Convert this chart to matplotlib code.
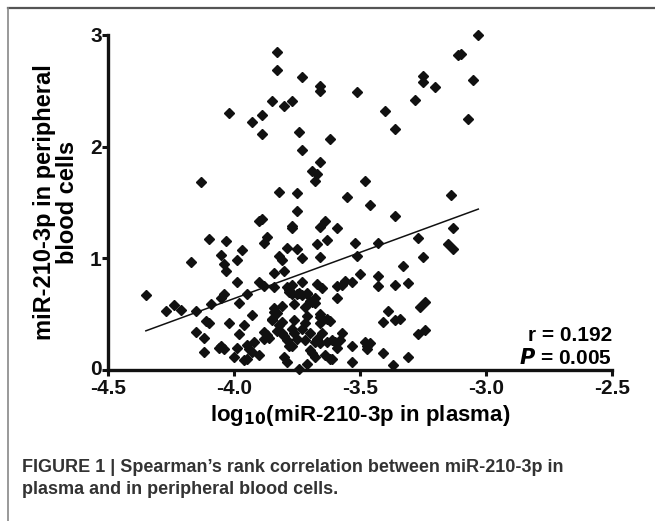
import matplotlib
matplotlib.use('Agg')
import matplotlib.pyplot as plt
from matplotlib.lines import Line2D
from matplotlib.transforms import ScaledTranslation

plt.rcParams['font.family'] = ['Liberation Sans', 'DejaVu Sans']
plt.rcParams['font.weight'] = 'bold'

# log10(miR-210-3p in plasma)
plasma = [-3.03, -3.11, -3.10, -3.83, -3.83, -3.73, -3.66, -3.66, -3.51, -3.05,
          -3.25, -3.25, -3.20, -3.28, -3.40, -3.07, -3.36, -3.85, -3.77, -3.80,
          -4.02, -3.93, -3.89, -3.89, -3.74, -3.73, -3.62, -3.66, -3.69, -3.67,
          -3.68, -4.13, -3.48, -3.14, -3.82, -3.75, -3.55, -3.46, -3.36, -3.75,
          -3.90, -3.89, -3.77, -3.77, -3.66, -3.64, -3.59, -3.13, -3.87, -3.88,
          -4.10, -4.03, -3.97, -3.79, -3.75, -3.67, -3.63, -3.52, -3.43, -3.27,
          -3.15, -3.13, -4.05, -3.99, -3.82, -3.81, -3.73, -3.66, -3.51, -3.25,
          -4.17, -4.04, -4.03, -3.33, -3.80, -3.84, -3.50, -3.43, -3.99, -3.90,
          -3.88, -3.84, -3.73, -3.67, -3.65, -3.59, -3.57, -3.56, -3.53, -3.43,
          -3.36, -3.31, -4.35, -4.27, -4.24, -4.21, -4.15, -4.09, -4.04, -4.05,
          -3.98, -3.95, -3.93, -3.96, -4.02, -4.11, -4.10, -4.15, -4.12, -4.12,
          -4.06, -4.05, -4.04, -4.00, -3.99, -3.98, -3.96, -3.95, -3.94, -3.95,
          -3.92, -3.93, -3.90, -3.88, -3.88, -3.87, -3.84, -3.83, -3.84, -3.85,
          -3.85, -3.81, -3.81, -3.81, -3.80, -3.79, -3.78, -3.80, -3.79, -3.76,
          -3.77, -3.76, -3.76, -3.75, -3.77, -3.74, -3.73, -3.72, -3.72, -3.71,
          -3.70, -3.71, -3.70, -3.71, -3.69, -3.68, -3.68, -3.69, -3.68, -3.68,
          -3.67, -3.66, -3.66, -3.65, -3.66, -3.66, -3.63, -3.62, -3.63, -3.62,
          -3.61, -3.61, -3.60, -3.59, -3.59, -3.57, -3.58, -3.53, -3.53, -3.48,
          -3.47, -3.46, -3.47, -3.41, -3.41, -3.39, -3.37, -3.36, -3.34, -3.31,
          -3.27, -3.26, -3.24, -3.24, -3.78, -3.77, -3.79, -3.78, -3.77, -3.75,
          -3.74, -3.73, -3.71, -3.72, -3.83, -3.82, -3.86, -3.70, -3.64]

# miR-210-3p in peripheral blood cells
cells = [3.00, 2.82, 2.83, 2.85, 2.69, 2.62, 2.54, 2.50, 2.49, 2.60,
         2.63, 2.58, 2.53, 2.42, 2.32, 2.25, 2.16, 2.41, 2.41, 2.36,
         2.30, 2.22, 2.28, 2.11, 2.13, 1.97, 2.07, 1.86, 1.78, 1.75,
         1.69, 1.68, 1.69, 1.57, 1.59, 1.58, 1.55, 1.48, 1.38, 1.42,
         1.33, 1.35, 1.29, 1.27, 1.28, 1.33, 1.27, 1.27, 1.19, 1.14,
         1.17, 1.15, 1.07, 1.09, 1.08, 1.13, 1.16, 1.14, 1.14, 1.18,
         1.13, 1.08, 1.03, 0.98, 1.02, 0.98, 1.00, 1.01, 1.02, 1.01,
         0.97, 0.95, 0.89, 0.93, 0.89, 0.87, 0.86, 0.84, 0.79, 0.79,
         0.75, 0.74, 0.79, 0.77, 0.73, 0.75, 0.76, 0.80, 0.79, 0.75,
         0.76, 0.78, 0.67, 0.53, 0.58, 0.54, 0.53, 0.59, 0.68, 0.64,
         0.60, 0.68, 0.49, 0.40, 0.42, 0.44, 0.42, 0.34, 0.29, 0.16,
         0.20, 0.21, 0.19, 0.12, 0.20, 0.32, 0.09, 0.10, 0.19, 0.22,
         0.25, 0.16, 0.13, 0.34, 0.28, 0.31, 0.52, 0.51, 0.55, 0.46,
         0.45, 0.57, 0.43, 0.33, 0.30, 0.27, 0.21, 0.12, 0.07, 0.45,
         0.37, 0.59, 0.33, 0.28, 0.21, 0.01, 0.37, 0.42, 0.27, 0.05,
         0.33, 0.48, 0.62, 0.68, 0.61, 0.60, 0.64, 0.15, 0.12, 0.25,
         0.28, 0.24, 0.42, 0.33, 0.50, 0.47, 0.46, 0.44, 0.25, 0.10,
         0.10, 0.27, 0.25, 0.64, 0.20, 0.33, 0.27, 0.21, 0.07, 0.25,
         0.21, 0.24, 0.19, 0.15, 0.43, 0.53, 0.04, 0.45, 0.46, 0.12,
         0.32, 0.56, 0.36, 0.61, 0.70, 0.68, 0.74, 0.72, 0.76, 0.68,
         0.69, 0.67, 0.69, 0.56, 0.35, 0.40, 0.29, 0.18, 0.13]

# fitted line end points
fit_x = [-4.35, -3.03]
fit_y = [0.35, 1.44]

x_ticks = [-4.5, -4.0, -3.5, -3.0, -2.5]
x_ticklabels = ['-4.5', '-4.0', '-3.5', '-3.0', '-2.5']
y_ticks = [0, 1, 2, 3]

fig = plt.figure(figsize=(6.55, 5.21), dpi=100)
ax = fig.add_axes([0.165, 0.29, 0.769, 0.643])

ax.plot(plasma, cells, linestyle='none', marker='D', markersize=5.2, color='#111111', clip_on=False)
ax.plot(fit_x, fit_y, color='#111111', linewidth=1.1)

ax.set_xlim(-4.5, -2.5)
ax.set_ylim(0, 3)
ax.set_xticks(x_ticks)
ax.set_xticklabels(x_ticklabels)
ax.set_yticks(y_ticks)
for s in ['top', 'right']:
    ax.spines[s].set_visible(False)
for s in ['left', 'bottom']:
    ax.spines[s].set_linewidth(2.4)
    ax.spines[s].set_color('#111111')
ax.tick_params(width=2.2, length=4, labelsize=15, colors='#111111')
ax.tick_params(axis='x', pad=2.5)
ax.tick_params(axis='y', pad=0.5)

# nudge the "0" label up a little so it clears "-4.5"
fig.canvas.draw()
zero_label = ax.get_yticklabels()[0]
zero_label.set_transform(zero_label.get_transform() + ScaledTranslation(0, 2 / 72, fig.dpi_scale_trans))

ax.set_xlabel('log$_{\\mathbf{10}}$(miR-210-3p in plasma)', fontsize=16, fontweight='bold', labelpad=4)
ax.set_ylabel('miR-210-3p in peripheral\nblood cells', fontsize=17, fontweight='bold',
              linespacing=1.0, labelpad=8)

ax.text(1.0, 0.104, 'r = 0.192', transform=ax.transAxes, ha='right', va='center', fontsize=15)
ax.text(1.0, 0.036, '$\\mathbf{\\it{P}}$ = 0.005', transform=ax.transAxes, ha='right', va='center', fontsize=15)

# caption
fig.text(0.034, 0.102, "FIGURE 1 | Spearman\u2019s rank correlation between miR-210-3p in",
         fontsize=13, color='#333333', va='center')
fig.text(0.034, 0.06, 'plasma and in peripheral blood cells.',
         fontsize=13, color='#333333', va='center')

# frame lines of the figure box
fig.add_artist(Line2D([0.012, 1.0], [0.985, 0.985], color='#555555', linewidth=1.6))
fig.add_artist(Line2D([0.012, 0.012], [0.0, 0.985], color='#888888', linewidth=1.2))

fig.savefig('out.png', dpi=100)
